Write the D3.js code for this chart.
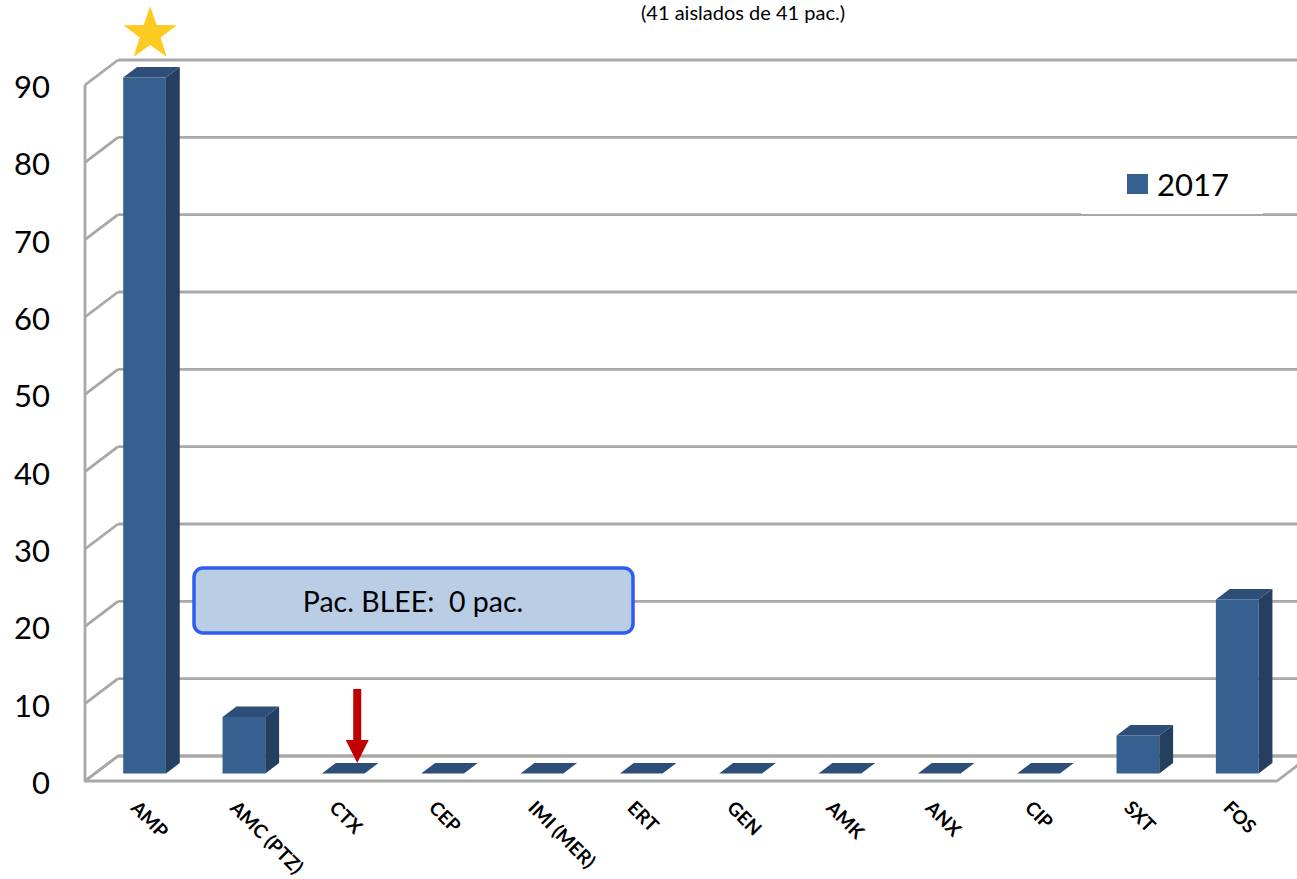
<!DOCTYPE html>
<html>
<head>
<meta charset="utf-8">
<script src="https://cdn.jsdelivr.net/npm/d3@7/dist/d3.min.js"></script>
<style>
  html, body { margin: 0; padding: 0; background: #ffffff; }
  svg { display: block; }
  text { white-space: pre; }
</style>
</head>
<body>
<svg id="chart" width="1297" height="879"></svg>
<script>
// Resistance percentages per antibiotic (2017)
const categories = ["AMP", "AMC (PTZ)", "CTX", "CEP", "IMI (MER)", "ERT", "GEN", "AMK", "ANX", "CIP", "SXT", "FOS"];
const values2017 = [90, 7.3, 0, 0, 0, 0, 0, 0, 0, 0, 4.9, 22.5];
const yTicks = [0, 10, 20, 30, 40, 50, 60, 70, 80, 90];
const seriesName = "2017";
const subtitle = "(41 aislados de 41 pac.)";
const noteText = "Pac. BLEE:  0 pac.";

const svg = d3.select("#chart");
const FONT = "Lato, 'Open Sans', sans-serif";

// Oblique 3D projection: depth t in [0,1] shifts points right and up
const DEPTH = { dx: 33, dy: -25 };
const x = d3.scaleBand().domain(categories).range([85, 1277]).paddingInner(0.57).paddingOuter(0.285);
const y = d3.scaleLinear().domain([0, 90]).range([781, 85]);
const P = (px, v, t) => [px + DEPTH.dx * t, y(v) + DEPTH.dy * t];
const poly = pts => "M" + pts.map(p => p.join(",")).join("L") + "Z";
const line = pts => "M" + pts.map(p => p.join(",")).join("L");

const GRID = "#a8a8a8";
const xLeft = x.range()[0], xRight = x.range()[1];

// Floor plane
svg.append("path")
  .attr("d", poly([P(xLeft, 0, 0), P(xRight, 0, 0), P(xRight, 0, 1), P(xLeft, 0, 1)]))
  .attr("fill", "#ffffff").attr("stroke", GRID).attr("stroke-width", 2.8).attr("stroke-linejoin", "round");

// Back-wall gridlines and side-wall diagonals
const grid = svg.append("g");
grid.selectAll("path.back").data(yTicks).join("path").attr("class", "back")
  .attr("d", v => line([P(xLeft, v, 1), P(xRight, v, 1)]))
  .attr("fill", "none").attr("stroke", GRID).attr("stroke-width", 2.8);
grid.selectAll("path.side").data(yTicks).join("path").attr("class", "side")
  .attr("d", v => line([P(xLeft, v, 0), P(xLeft, v, 1)]))
  .attr("fill", "none").attr("stroke", GRID).attr("stroke-width", 2.8);
// Value axis line on the front-left edge
grid.append("path")
  .attr("d", line([P(xLeft, 0, 0), P(xLeft, 90, 0)]))
  .attr("fill", "none").attr("stroke", GRID).attr("stroke-width", 2.8);

// Value axis labels
svg.append("g").selectAll("text").data(yTicks).join("text")
  .attr("x", 50).attr("y", v => y(v) + 13)
  .attr("text-anchor", "end")
  .attr("font-family", FONT).attr("font-size", 31).attr("fill", "#000")
  .text(d => d);

// 3D bars
const T0 = 0.3, T1 = 0.72;
const FRONT = "#36608f", SIDE = "#243f60", TOP = "#2c4e78";
const bars = svg.append("g").selectAll("g").data(categories.map((c, i) => ({ c, v: values2017[i] }))).join("g");
bars.each(function (d) {
  const g = d3.select(this);
  const x0 = x(d.c), x1 = x(d.c) + x.bandwidth();
  if (d.v > 0) {
    g.append("path").attr("d", poly([P(x0, 0, T0), P(x1, 0, T0), P(x1, d.v, T0), P(x0, d.v, T0)])).attr("fill", FRONT);
    g.append("path").attr("d", poly([P(x1, 0, T0), P(x1, 0, T1), P(x1, d.v, T1), P(x1, d.v, T0)])).attr("fill", SIDE);
  }
  g.append("path").attr("d", poly([P(x0, d.v, T0), P(x1, d.v, T0), P(x1, d.v, T1), P(x0, d.v, T1)])).attr("fill", TOP);
});

// Category labels, rotated 45 degrees
svg.append("g").selectAll("text").data(categories).join("text")
  .attr("transform", c => `translate(${x(c) + x.bandwidth() / 2 - 5},809) rotate(45)`)
  .attr("font-family", FONT).attr("font-size", 19).attr("font-weight", "bold").attr("fill", "#000")
  .text(c => c);

// Subtitle (top)
svg.append("text")
  .attr("x", 743).attr("y", 20).attr("text-anchor", "middle")
  .attr("font-family", FONT).attr("font-size", 20).attr("fill", "#000")
  .text(subtitle);

// Legend
const lg = svg.append("g");
lg.append("rect").attr("x", 1081).attr("y", 145).attr("width", 182).attr("height", 69).attr("fill", "#ffffff");
lg.append("rect").attr("x", 1127).attr("y", 174).attr("width", 21).attr("height", 20).attr("fill", FRONT);
lg.append("text").attr("x", 1157).attr("y", 196)
  .attr("font-family", FONT).attr("font-size", 31).attr("fill", "#000").text(seriesName);

// Star marking the highest resistance
const amp = categories[0];
const starC = [x(amp) + x.bandwidth() / 2 + DEPTH.dx * 0.5 - 1, 34];
const starPts = d3.range(10).map(i => {
  const r = i % 2 === 0 ? 28 : 11;
  const a = -Math.PI / 2 + i * Math.PI / 5;
  return [starC[0] + r * Math.cos(a), starC[1] + r * Math.sin(a)];
});
svg.append("path").attr("d", poly(starPts)).attr("fill", "#fdca22");

// ESBL note box
const note = svg.append("g");
note.append("rect").attr("x", 194).attr("y", 568).attr("width", 439).attr("height", 65)
  .attr("rx", 9).attr("fill", "#b9cde5").attr("stroke", "#2f5cf2").attr("stroke-width", 3.5);
note.append("text").attr("x", 413).attr("y", 612).attr("text-anchor", "middle")
  .attr("xml:space", "preserve")
  .attr("font-family", FONT).attr("font-size", 28.5).attr("fill", "#000").text(noteText);

// Red arrow pointing to CTX
const ctx = categories[2];
const ax = x(ctx) + x.bandwidth() / 2 + DEPTH.dx * T0 + 14;
const tip = P(0, 0, T1)[1];
svg.append("path")
  .attr("d", poly([[ax - 4, 689], [ax + 4, 689], [ax + 4, tip - 23], [ax + 11.5, tip - 23], [ax, tip], [ax - 11.5, tip - 23], [ax - 4, tip - 23]]))
  .attr("fill", "#c00000");
</script>
</body>
</html>
